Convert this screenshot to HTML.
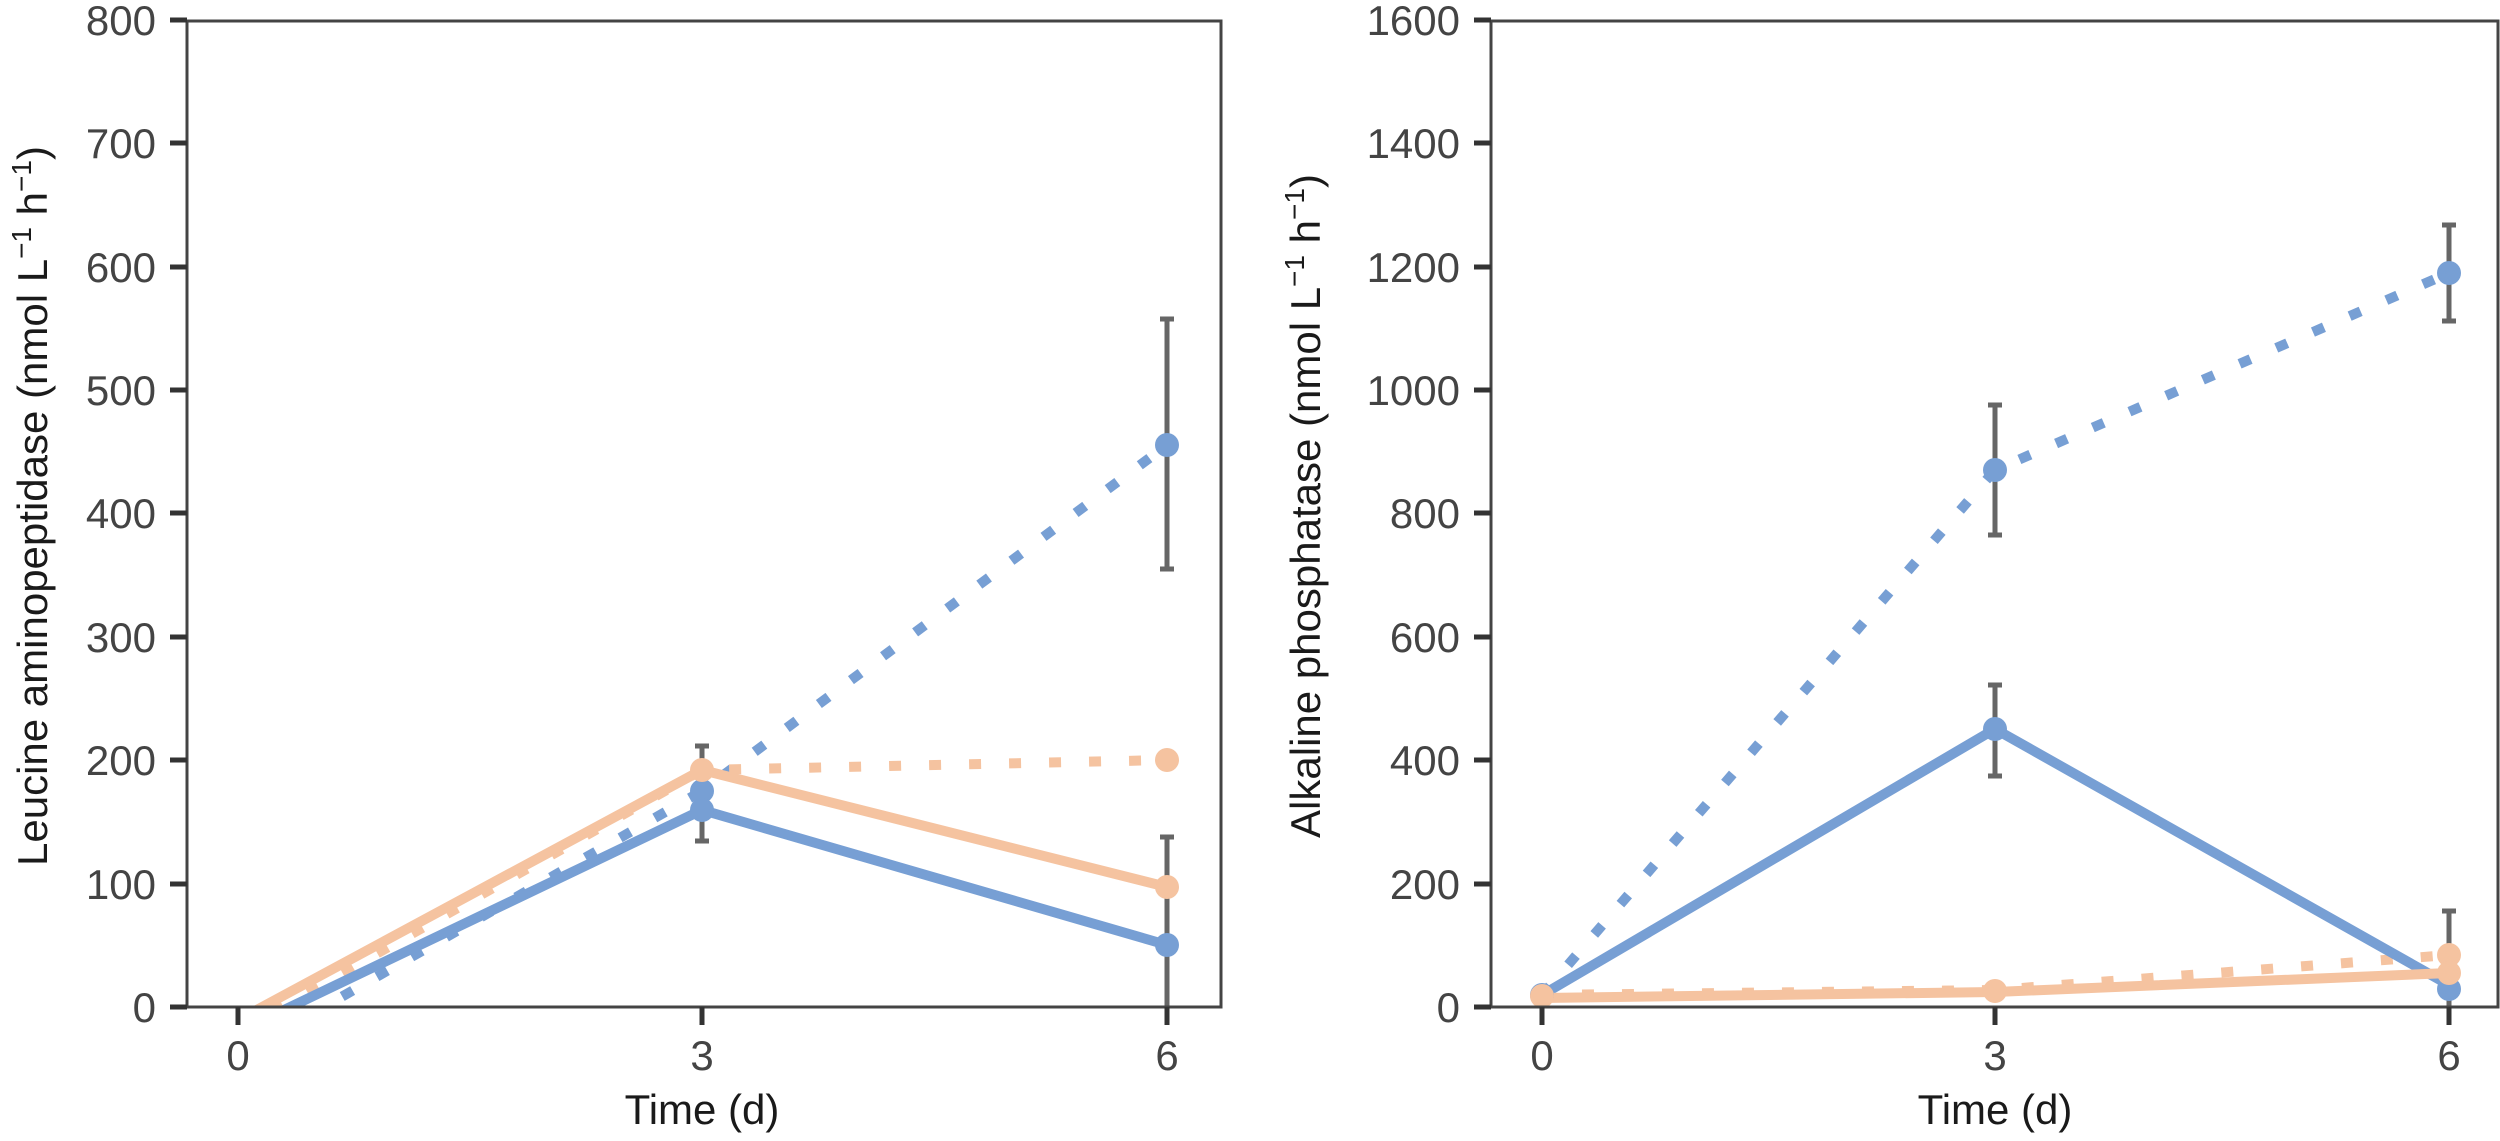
<!DOCTYPE html>
<html><head><meta charset="utf-8"><style>
html,body{margin:0;padding:0;background:#fff;}
svg{display:block;}
text{font-family:"Liberation Sans",Arial,sans-serif;fill:#444;}
.lab{fill:#1a1a1a;}
</style></head><body>
<svg width="2500" height="1141" viewBox="0 0 2500 1141" xmlns="http://www.w3.org/2000/svg">
<defs>
<clipPath id="cl"><rect x="187" y="21" width="1034" height="986"/></clipPath>
<clipPath id="cr"><rect x="1491" y="21" width="1008" height="986"/></clipPath>
</defs>
<!-- LEFT PANEL: y = 1007 - v*1.234 ; x: 0->238, 3->702, 6->1167 -->
<g clip-path="url(#cl)" stroke-linecap="butt" fill="none">
  <line x1="702" y1="841" x2="702" y2="746" stroke="#666" stroke-width="5"/>
  <line x1="1167" y1="569" x2="1167" y2="319" stroke="#666" stroke-width="5"/>
  <line x1="1167" y1="1007" x2="1167" y2="837" stroke="#666" stroke-width="5"/>
  <polyline points="238,1056 702,791 1167,445" stroke="#779fd4" stroke-width="10" stroke-dasharray="12 28"/>
  <polyline points="238,1032 702,770 1167,760" stroke="#f5c3a0" stroke-width="10" stroke-dasharray="12 28"/>
  <polyline points="238,1032 702,810 1167,945" stroke="#779fd4" stroke-width="10"/>
  <polyline points="238,1020 702,770 1167,887" stroke="#f5c3a0" stroke-width="10"/>
  <g stroke="#666" stroke-width="5">
    <line x1="695" y1="746" x2="709" y2="746"/><line x1="695" y1="841" x2="709" y2="841"/>
    <line x1="1160" y1="319" x2="1174" y2="319"/><line x1="1160" y1="569" x2="1174" y2="569"/>
    <line x1="1160" y1="837" x2="1174" y2="837"/>
  </g>
  <g stroke="none">
    <circle cx="702" cy="791" r="12" fill="#779fd4"/>
    <circle cx="702" cy="810" r="12" fill="#779fd4"/>
    <circle cx="1167" cy="445" r="12" fill="#779fd4"/>
    <circle cx="1167" cy="945" r="12" fill="#779fd4"/>
    <circle cx="702" cy="770" r="12" fill="#f5c3a0"/>
    <circle cx="1167" cy="760" r="12" fill="#f5c3a0"/>
    <circle cx="1167" cy="887" r="12" fill="#f5c3a0"/>
  </g>
</g>
<rect x="187" y="21" width="1034" height="986" fill="none" stroke="#444" stroke-width="3"/>
<g stroke="#333" stroke-width="5">
  <line x1="170" y1="1007" x2="187" y2="1007"/><line x1="170" y1="884" x2="187" y2="884"/>
  <line x1="170" y1="760" x2="187" y2="760"/><line x1="170" y1="637" x2="187" y2="637"/>
  <line x1="170" y1="513" x2="187" y2="513"/><line x1="170" y1="390" x2="187" y2="390"/>
  <line x1="170" y1="267" x2="187" y2="267"/><line x1="170" y1="143" x2="187" y2="143"/>
  <line x1="170" y1="20" x2="187" y2="20"/>
  <line x1="238" y1="1007" x2="238" y2="1025"/><line x1="702" y1="1007" x2="702" y2="1025"/><line x1="1167" y1="1007" x2="1167" y2="1025"/>
</g>
<g font-size="42" text-anchor="end">
  <text x="156" y="1022">0</text><text x="156" y="899">100</text><text x="156" y="775">200</text>
  <text x="156" y="652">300</text><text x="156" y="528">400</text><text x="156" y="405">500</text>
  <text x="156" y="282">600</text><text x="156" y="158">700</text><text x="156" y="35">800</text>
</g>
<g font-size="42" text-anchor="middle">
  <text x="238" y="1070">0</text><text x="702" y="1070">3</text><text x="1167" y="1070">6</text>
  <text class="lab" x="702" y="1124">Time (d)</text>
</g>
<text class="lab" font-size="42" text-anchor="middle" transform="translate(47,506) rotate(-90)">Leucine aminopeptidase (nmol L<tspan dy="-16" font-size="28">−1</tspan><tspan dy="16"> h</tspan><tspan dy="-16" font-size="28">−1</tspan><tspan dy="16">)</tspan></text>

<!-- RIGHT PANEL: y = 1007 - v*0.617 ; x: 0->1542, 3->1995, 6->2449 -->
<g clip-path="url(#cr)" stroke-linecap="butt" fill="none">
  <line x1="1995" y1="535" x2="1995" y2="405" stroke="#666" stroke-width="5"/>
  <line x1="1995" y1="776" x2="1995" y2="685" stroke="#666" stroke-width="5"/>
  <line x1="2449" y1="321" x2="2449" y2="225" stroke="#666" stroke-width="5"/>
  <line x1="2449" y1="1007" x2="2449" y2="911" stroke="#666" stroke-width="5"/>
  <polyline points="1542,995 1995,470 2449,273" stroke="#779fd4" stroke-width="10" stroke-dasharray="12 28"/>
  <polyline points="1542,995 1995,990 2449,955" stroke="#f5c3a0" stroke-width="10" stroke-dasharray="12 28"/>
  <polyline points="1542,995 1995,729 2449,985" stroke="#779fd4" stroke-width="10"/>
  <polyline points="1542,998 1995,992 2449,973" stroke="#f5c3a0" stroke-width="10"/>
  <g stroke="#666" stroke-width="5">
    <line x1="1988" y1="405" x2="2002" y2="405"/><line x1="1988" y1="535" x2="2002" y2="535"/>
    <line x1="1988" y1="685" x2="2002" y2="685"/><line x1="1988" y1="776" x2="2002" y2="776"/>
    <line x1="2442" y1="225" x2="2456" y2="225"/><line x1="2442" y1="321" x2="2456" y2="321"/>
    <line x1="2442" y1="911" x2="2456" y2="911"/>
  </g>
  <g stroke="none">
    <circle cx="1542" cy="995" r="12" fill="#779fd4"/>
    <circle cx="1995" cy="470" r="12" fill="#779fd4"/>
    <circle cx="1995" cy="729" r="12" fill="#779fd4"/>
    <circle cx="2449" cy="273" r="12" fill="#779fd4"/>
    <circle cx="2449" cy="989" r="12" fill="#779fd4"/>
    <circle cx="1542" cy="996" r="12" fill="#f5c3a0"/>
    <circle cx="1995" cy="991" r="12" fill="#f5c3a0"/>
    <circle cx="2449" cy="955" r="12" fill="#f5c3a0"/>
    <circle cx="2449" cy="973" r="12" fill="#f5c3a0"/>
  </g>
</g>
<rect x="1491" y="21" width="1007" height="986" fill="none" stroke="#444" stroke-width="3"/>
<g stroke="#333" stroke-width="5">
  <line x1="1474" y1="1007" x2="1491" y2="1007"/><line x1="1474" y1="884" x2="1491" y2="884"/>
  <line x1="1474" y1="760" x2="1491" y2="760"/><line x1="1474" y1="637" x2="1491" y2="637"/>
  <line x1="1474" y1="513" x2="1491" y2="513"/><line x1="1474" y1="390" x2="1491" y2="390"/>
  <line x1="1474" y1="267" x2="1491" y2="267"/><line x1="1474" y1="143" x2="1491" y2="143"/>
  <line x1="1474" y1="20" x2="1491" y2="20"/>
  <line x1="1542" y1="1007" x2="1542" y2="1025"/><line x1="1995" y1="1007" x2="1995" y2="1025"/><line x1="2449" y1="1007" x2="2449" y2="1025"/>
</g>
<g font-size="42" text-anchor="end">
  <text x="1460" y="1022">0</text><text x="1460" y="899">200</text><text x="1460" y="775">400</text>
  <text x="1460" y="652">600</text><text x="1460" y="528">800</text><text x="1460" y="405">1000</text>
  <text x="1460" y="282">1200</text><text x="1460" y="158">1400</text><text x="1460" y="35">1600</text>
</g>
<g font-size="42" text-anchor="middle">
  <text x="1542" y="1070">0</text><text x="1995" y="1070">3</text><text x="2449" y="1070">6</text>
  <text class="lab" x="1995" y="1124">Time (d)</text>
</g>
<text class="lab" font-size="42" text-anchor="middle" transform="translate(1320,506) rotate(-90)">Alkaline phosphatase (nmol L<tspan dy="-16" font-size="28">−1</tspan><tspan dy="16"> h</tspan><tspan dy="-16" font-size="28">−1</tspan><tspan dy="16">)</tspan></text>
</svg>
</body></html>
